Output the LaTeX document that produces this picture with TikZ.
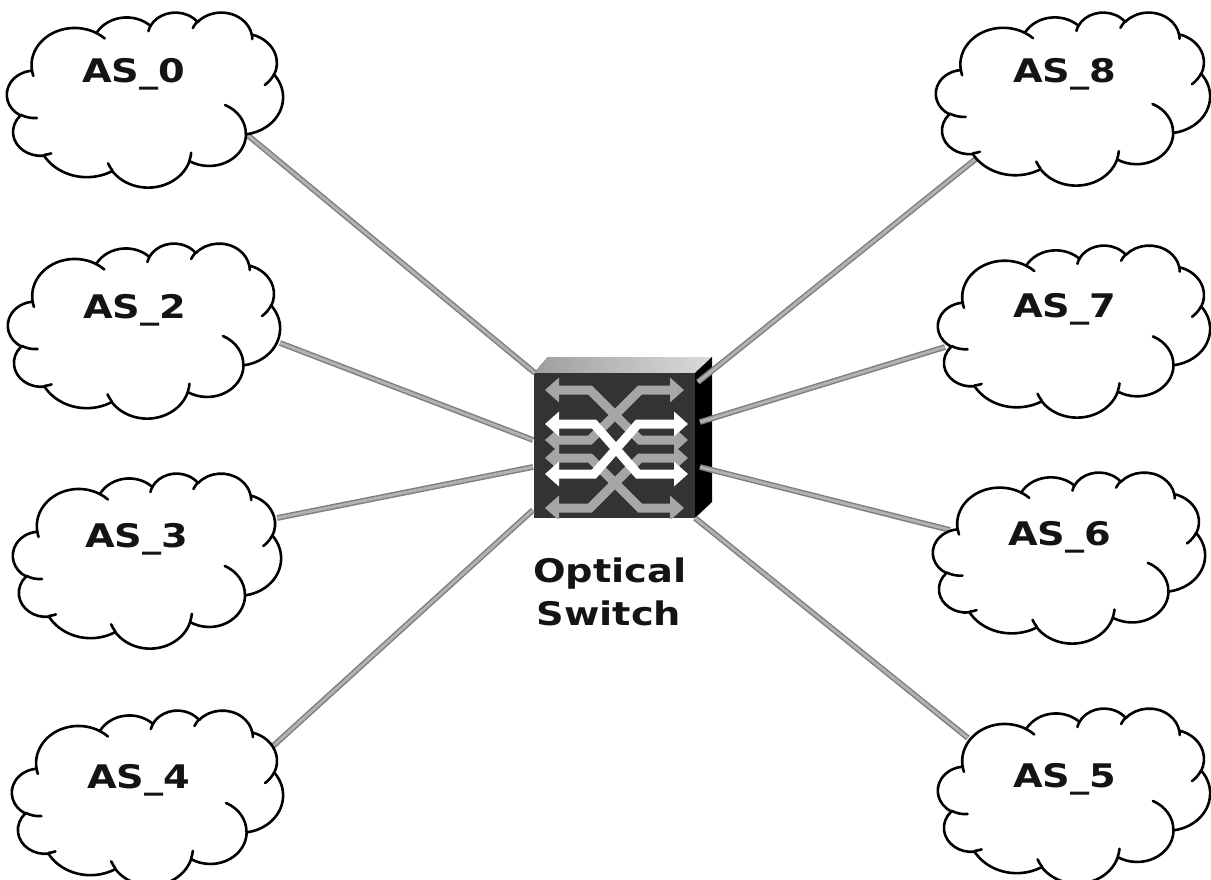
\documentclass[tikz,border=0pt]{standalone}
\usepackage{fontspec}
\usetikzlibrary{arrows.meta}
\newfontface\lblfont{DejaVu Sans Bold}[FakeStretch=1.18]

% Cloud outline: arcs in a 43.2 x 43.2 path space (radius x, radius y, start, sweep)
\newcommand\cloudouterlist{6.753/9.190/-190.48748/123.78053,
  5.333/7.267/-144.10238/89.94523,
  4.365/5.945/-145.80792/99.72302,
  4.857/6.595/-130.98607/117.24173,
  5.333/7.273/-78.70888/109.02692,
  6.775/9.220/-46.26725/130.2690,
  5.785/7.867/0.62502/114.03333,
  6.752/9.215/22.4516/115.17255,
  7.720/10.543/66.24263/75.71102,
  4.360/5.918/-274.94208/146.73557,
  4.345/5.945/-246.8285/152.51885}
% Inner hooks of the cloud: start point, radii, start, sweep
\newcommand\cloudinnerlist{4.693/26.177/4.345/5.945/86.742/26.4295,
  6.928/34.899/4.360/5.918/73.6105/11.4475,
  16.478/39.090/6.752/9.215/137.6242/14.0811,
  28.827/34.751/6.752/9.215/6.4533/15.9984,
  34.129/22.954/5.785/7.867/-70.2924/70.9174,
  41.798/15.354/5.333/7.273/30.3180/27.7515,
  38.324/5.426/4.857/6.595/-13.7443/14.8501,
  29.078/3.952/4.857/6.595/-149.1815/18.1954,
  22.141/4.720/4.365/5.945/-163.4943/17.6864,
  14.000/5.192/6.753/9.190/-66.7070/12.3194,
  4.127/15.789/6.753/9.190/157.6544/11.8582}

\tikzset{
  cloudline/.style={draw=black, line width=2.6pt, line join=round, line cap=round},
  link/.style={draw=black!50, line width=1.5pt, double=black!30, double distance=2.8pt},
  lbl/.style={font=\lblfont\fontsize{32.5}{38}\selectfont, inner sep=0pt, text=black!92},
  xarr/.style={line width=9pt, line join=miter,
    {Triangle[width=24pt,length=14pt]}-{Triangle[width=24pt,length=14pt]}},
  % arc given by radii and angles measured as directions from the centre
  visarc/.style n args={4}{x radius=#1, y radius=#2,
    start angle={atan2(#1*sin(#3), #2*cos(#3))},
    delta angle={mod(atan2(#1*sin(#3+#4), #2*cos(#3+#4))
                 - atan2(#1*sin(#3), #2*cos(#3)) + 720, 360)}},
}

% \cloudat{left}{top}{width}{height}
\newcommand\cloudat[4]{%
  \pgfmathsetmacro\cw{#3/43.2}\pgfmathsetmacro\ch{#4/43.2}%
  \begin{scope}[shift={(#1,#2)}, x=\cw pt, y=-\ch pt]
    \filldraw[cloudline, fill=white] (3.900,14.370)
      \foreach \wr/\hr/\st/\sw in \cloudouterlist {
        arc[visarc={\wr}{\hr}{\st}{\sw}]
      } -- cycle;
    \draw[cloudline]
      \foreach \px/\py/\wr/\hr/\st/\sw in \cloudinnerlist {
        (\px,\py) arc[visarc={\wr}{\hr}{\st}{\sw}]
      };
  \end{scope}}

\begin{document}
\begin{tikzpicture}[x=1pt, y=-1pt]
\useasboundingbox (0,0) rectangle (1211,880);

% optical switch: box with top and side faces
\fill[left color=black!38, right color=black!14] (534,373) -- (548,357) -- (712,357) -- (695,373) -- cycle;
\fill[black] (695,373) -- (712,357) -- (712,502) -- (695,518) -- cycle;
\node[name=switch, fill=black!80, minimum width=161pt, minimum height=145pt,
      inner sep=0pt, anchor=north west] at (534,373) {};
\begin{scope}
  \clip (534,373) rectangle (695,518);
  \draw[xarr, draw=black!35] (545,390) -- (590,390) -- (640,440) -- (688,440);
  \draw[xarr, draw=black!35] (684,390) -- (640,390) -- (590,440) -- (545,440);
  \draw[xarr, draw=black!35] (545,458) -- (590,458) -- (640,508) -- (684,508);
  \draw[xarr, draw=black!35] (688,458) -- (640,458) -- (590,508) -- (545,508);
  \draw[xarr, draw=white] (545,424) -- (594,424) -- (638,474) -- (688,474);
  \draw[xarr, draw=white] (688,424) -- (638,424) -- (594,474) -- (545,474);
\end{scope}
\node[lbl, name=swlabel1, anchor=base] at (610,582) {Optical};
\node[lbl, name=swlabel2, anchor=base] at (609,625) {Switch};

% switch ports
\coordinate (p0) at (535,373);
\coordinate (p2) at (533,440);
\coordinate (p3) at (533,467);
\coordinate (p4) at (533,510);
\coordinate (p8) at (698,382);
\coordinate (p7) at (700,422);
\coordinate (p6) at (700,467);
\coordinate (p5) at (695,518);

% cloud ports
\coordinate (c0) at (245,133);
\coordinate (c2) at (280,343);
\coordinate (c3) at (277,518);
\coordinate (c4) at (272,747);
\coordinate (c8) at (977,158);
\coordinate (c7) at (945,347);
\coordinate (c6) at (950,530);
\coordinate (c5) at (968,738);

% links
\draw[link] (c0) -- (p0);
\draw[link] (c2) -- (p2);
\draw[link] (c3) -- (p3);
\draw[link] (c4) -- (p4);
\draw[link] (c8) -- (p8);
\draw[link] (c7) -- (p7);
\draw[link] (c6) -- (p6);
\draw[link] (c5) -- (p5);

% autonomous systems
\cloudat{7}{12}{276}{175}
\cloudat{8}{243}{272}{175}
\cloudat{13}{473}{268}{175}
\cloudat{12}{710}{271}{175}
\cloudat{936}{12}{274}{173}
\cloudat{938}{245}{272}{172}
\cloudat{933}{472}{272}{171}
\cloudat{938}{708}{272}{175}

\node[lbl, name=as0, anchor=base west] at (82,83) {AS\_0};
\node[lbl, name=as2, anchor=base west] at (83,318) {AS\_2};
\node[lbl, name=as3, anchor=base west] at (85,547) {AS\_3};
\node[lbl, name=as4, anchor=base west] at (87,788) {AS\_4};
\node[lbl, name=as8, anchor=base west] at (1013,83) {AS\_8};
\node[lbl, name=as7, anchor=base west] at (1013,317) {AS\_7};
\node[lbl, name=as6, anchor=base west] at (1008,545) {AS\_6};
\node[lbl, name=as5, anchor=base west] at (1013,787) {AS\_5};
\end{tikzpicture}
\end{document}
